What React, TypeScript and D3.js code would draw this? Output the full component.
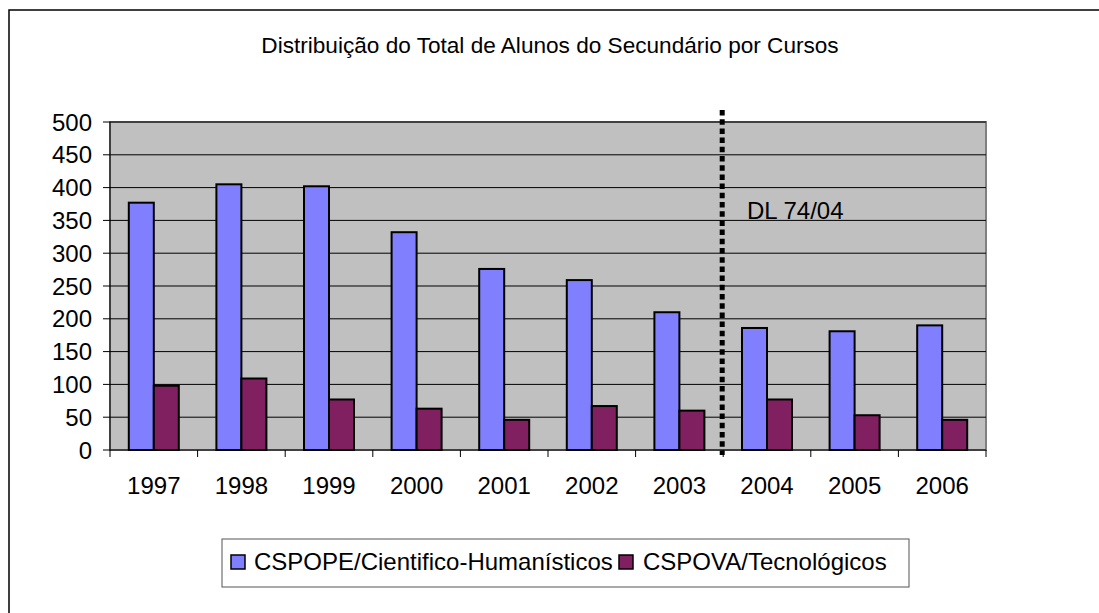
import React from "react";
import * as d3 from "d3";

const years = ["1997", "1998", "1999", "2000", "2001", "2002", "2003", "2004", "2005", "2006"];
const cientifico = [377, 405, 402, 332, 276, 259, 210, 186, 181, 190];
const tecnologicos = [98, 109, 77, 63, 46, 67, 60, 77, 53, 46];
const seriesNames = ["CSPOPE/Cientifico-Humanísticos", "CSPOVA/Tecnológicos"];
const seriesColors = ["#8080FF", "#802060"];
const yTicks = [0, 50, 100, 150, 200, 250, 300, 350, 400, 450, 500];
const title = "Distribuição do Total de Alunos do Secundário por Cursos";
const markerYear = "2004";
const markerLabel = "DL 74/04";

export default function App() {
  const W = 1099, H = 613;
  const left = 110, right = 986, top = 122, bottom = 450;
  const x = d3.scaleBand<string>().domain(years).range([left, right]).padding(0);
  const y = d3.scaleLinear().domain([0, 500]).range([bottom, top]);
  const groupW = 50;
  const xs = d3.scaleBand<string>().domain(["a", "b"]).range([0, groupW]).padding(0);
  const off = (x.bandwidth() - groupW) / 2;
  const data = [cientifico, tecnologicos];
  const font = "'Liberation Sans', Arial, sans-serif";
  const markerX = x(markerYear)!;
  const fs = 24;

  return (
    <svg width={W} height={H} style={{ position: "absolute", left: 0, top: 0, background: "#fff" }} fontFamily={font}>
      <rect x={9} y={10} width={1100} height={620} fill="#fff" stroke="#000" strokeWidth={1.5} />
      <text x={550} y={53} textAnchor="middle" fontSize={22.6} fill="#000">{title}</text>
      <rect x={left} y={top} width={right - left} height={bottom - top} fill="#C0C0C0" stroke="#808080" strokeWidth={2} />
      {yTicks.filter(t => t > 0).map(t => (
        <line key={"g" + t} x1={left} x2={right} y1={y(t)} y2={y(t)} stroke="#000" strokeWidth={1} />
      ))}
      {data.map((vals, si) =>
        years.map((yr, i) => (
          <rect key={si + "-" + yr}
            x={x(yr)! + off + xs(si === 0 ? "a" : "b")!}
            y={y(vals[i])}
            width={xs.bandwidth()}
            height={bottom - y(vals[i])}
            fill={seriesColors[si]} stroke="#000" strokeWidth={2} />
        ))
      )}
      <line x1={left} x2={left} y1={top} y2={bottom} stroke="#000" strokeWidth={1} />
      <line x1={left} x2={right} y1={bottom} y2={bottom} stroke="#000" strokeWidth={1} />
      {yTicks.map(t => (
        <g key={"yt" + t}>
          <line x1={left - 7} x2={left} y1={y(t)} y2={y(t)} stroke="#000" />
          <text x={92} y={y(t) + 8.5} textAnchor="end" fontSize={fs} fill="#000">{t}</text>
        </g>
      ))}
      {years.map((yr, i) => (
        <line key={"xt" + yr} x1={x(yr)!} x2={x(yr)!} y1={bottom} y2={bottom + 7} stroke="#000" />
      ))}
      <line x1={right} x2={right} y1={bottom} y2={bottom + 7} stroke="#000" />
      {years.map(yr => (
        <text key={"xl" + yr} x={x(yr)! + x.bandwidth() / 2} y={494} textAnchor="middle" fontSize={fs} fill="#000">{yr}</text>
      ))}
      <line x1={markerX - 1} x2={markerX - 1} y1={110} y2={455} stroke="#000" strokeWidth={5} strokeDasharray="5.5 3.7" />
      <text x={747} y={219} fontSize={fs} fill="#000">{markerLabel}</text>
      <rect x={222} y={539} width={687} height={48} fill="#fff" stroke="#555" strokeWidth={1} />
      <rect x={231} y={555} width={14} height={14} fill={seriesColors[0]} stroke="#000" strokeWidth={1.5} />
      <text x={254} y={570} fontSize={fs} fill="#000">{seriesNames[0]}</text>
      <rect x={619} y={555} width={14} height={14} fill={seriesColors[1]} stroke="#000" strokeWidth={1.5} />
      <text x={643} y={570} fontSize={fs} fill="#000">{seriesNames[1]}</text>
    </svg>
  );
}
